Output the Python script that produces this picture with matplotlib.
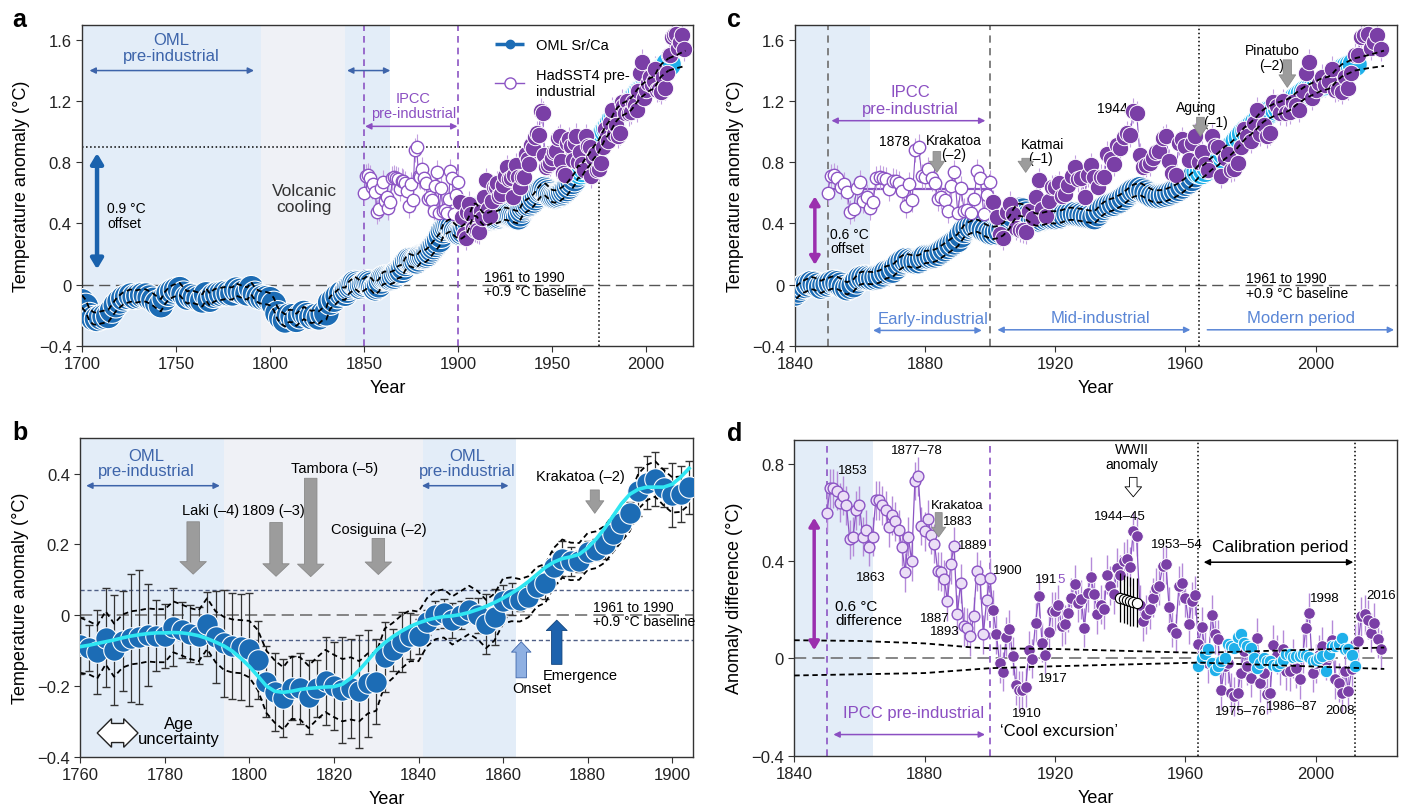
import numpy as np
import matplotlib.pyplot as plt
from matplotlib.lines import Line2D
from matplotlib.ticker import FuncFormatter

plt.rcParams['font.family'] = ['Liberation Sans', 'DejaVu Sans']

OML_BLUE = '#1c6cb5'
CAL_CYAN = '#1fb0ea'
SMOOTH_CYAN = '#2fe6f2'
PURPLE = '#7a3fa6'
PURPLE_LINE = '#8c55c4'
PURPLE_TEXT = '#8b4fc2'
MAGENTA = '#9b2fae'
BLUE_TEXT = '#3d64aa'
PERIOD_BLUE = '#5a86d6'
SHADE_BLUE = '#e3edf8'
SHADE_GREY = '#eff1f6'
ARROW_GREY = '#9c9c9c'

# OML Sr/Ca reconstruction, two-yearly before 1840 and annual afterwards
oml_early_years = np.arange(1700, 1840, 2)
oml_early = np.array([
    -0.11, -0.14, -0.20, -0.22, -0.225, -0.215, -0.21, -0.205, -0.17, -0.135,
    -0.11, -0.09, -0.08, -0.072, -0.08, -0.075, -0.07, -0.072, -0.085, -0.10,
    -0.12, -0.135, -0.09, -0.06, -0.045, -0.035, -0.03, -0.06, -0.085, -0.075,
    -0.085, -0.092, -0.104, -0.064, -0.099, -0.073, -0.064, -0.061, -0.056, -0.058,
    -0.058, -0.033, -0.042, -0.052, -0.058, -0.024, -0.061, -0.08, -0.087, -0.089,
    -0.096, -0.127, -0.188, -0.216, -0.235, -0.205, -0.207, -0.231, -0.207, -0.186,
    -0.20, -0.212, -0.207, -0.215, -0.193, -0.188, -0.118, -0.099, -0.075, -0.058])
oml_years = np.arange(1840, 2013)
oml = np.array([
    -0.06, -0.04, -0.02, -0.01, 0.00, 0.01, 0.005, -0.005, -0.015, -0.005,
    0.00, 0.01, 0.015, 0.01, 0.00, -0.015, -0.025, -0.015, -0.005, 0.02,
    0.04, 0.045, 0.045, 0.043, 0.042, 0.047, 0.052, 0.065, 0.08, 0.085,
    0.09, 0.11, 0.135, 0.15, 0.16, 0.157, 0.152, 0.15, 0.152, 0.165,
    0.18, 0.182, 0.185, 0.19, 0.20, 0.215, 0.23, 0.245, 0.26, 0.275,
    0.29, 0.32, 0.35, 0.365, 0.375, 0.383, 0.385, 0.375, 0.36, 0.35,
    0.34, 0.338, 0.342, 0.35, 0.362, 0.385, 0.41, 0.45, 0.48, 0.49,
    0.485, 0.465, 0.45, 0.435, 0.425, 0.425, 0.43, 0.435, 0.44, 0.44,
    0.44, 0.443, 0.447, 0.455, 0.462, 0.463, 0.462, 0.458, 0.455, 0.45,
    0.447, 0.443, 0.44, 0.46, 0.484, 0.50, 0.512, 0.52, 0.527, 0.538,
    0.549, 0.565, 0.582, 0.60, 0.614, 0.62, 0.625, 0.615, 0.603, 0.59,
    0.58, 0.577, 0.577, 0.58, 0.586, 0.594, 0.603, 0.614, 0.625, 0.64,
    0.658, 0.672, 0.69, 0.715, 0.74, 0.735, 0.75, 0.77, 0.79, 0.805,
    0.82, 0.84, 0.86, 0.875, 0.89, 0.91, 0.935, 0.96, 0.985, 1.005,
    1.02, 1.04, 1.06, 1.085, 1.105, 1.12, 1.13, 1.14, 1.15, 1.155,
    1.165, 1.17, 1.18, 1.195, 1.215, 1.23, 1.245, 1.26, 1.27, 1.28,
    1.29, 1.30, 1.31, 1.315, 1.32, 1.335, 1.36, 1.38, 1.40, 1.41,
    1.42, 1.43, 1.44])
oml_band = 0.04
# band continues past the last coral year
band_tail_years = [2012, 2016, 2021]
band_tail_upper = [1.48, 1.50, 1.53]
band_tail_lower = [1.40, 1.415, 1.43]

# HadSST4 minus OML, 1850-2020
diff_years = np.arange(1850, 2021)
had_diff = np.array([
    0.60, 0.70, 0.70, 0.69, 0.64, 0.67, 0.63, 0.49, 0.50, 0.61,
    0.63, 0.50, 0.53, 0.46, 0.50, 0.65, 0.65, 0.63, 0.61, 0.54,
    0.59, 0.565, 0.53, 0.46, 0.355, 0.50, 0.40, 0.73, 0.75, 0.545,
    0.524, 0.572, 0.51, 0.472, 0.36, 0.357, 0.325, 0.236, 0.387, 0.462,
    0.181, 0.309, 0.133, 0.126, 0.092, 0.174, 0.359, 0.325, 0.099, 0.239,
    0.332, 0.20, 0.10, -0.02, -0.055, 0.09, 0.12, 0.01, -0.11, -0.13,
    -0.13, -0.118, 0.034, -0.001, 0.147, 0.256, 0.065, 0.016, 0.109, 0.195,
    0.195, 0.222, 0.133, 0.14, 0.188, 0.25, 0.305, 0.23, 0.243, 0.126,
    0.271, 0.336, 0.264, 0.181, 0.222, 0.202, 0.345, 0.30, 0.264, 0.373,
    0.345, 0.40, 0.41, 0.378, 0.524, 0.503, 0.222, 0.153, 0.181, 0.202,
    0.25, 0.291, 0.30, 0.38, 0.387, 0.212, 0.126, 0.105, 0.30, 0.312,
    0.25, 0.14, 0.236, 0.26, 0.06, 0.13, 0.04, -0.02, 0.18, 0.10,
    0.08, -0.13, -0.03, -0.02, -0.14, -0.155, -0.14, -0.06, 0.03, -0.03,
    -0.08, 0.02, 0.085, -0.10, -0.06, -0.148, -0.14, 0.057, 0.016, -0.03,
    0.037, -0.05, -0.052, 0.0, -0.04, -0.086, 0.02, 0.126, 0.188, -0.059,
    -0.02, 0.016, 0.05, -0.01, 0.01, 0.078, -0.086, -0.10, -0.141, -0.05,
    -0.134, -0.045, 0.06, 0.07, 0.174, 0.181, 0.16, 0.106, 0.147, 0.08,
    0.037])
had_tail_years = np.arange(2013, 2021)
had_tail = np.array([1.50, 1.62, 1.63, 1.64, 1.55, 1.59, 1.63, 1.54])
had_err = 0.08

# calibration-period residuals
cal_years = np.arange(1964, 2013)
cal_diff = np.array([
    -0.03, 0.00, 0.02, 0.04, -0.02, -0.046, -0.03, -0.01, 0.00, 0.06,
    0.05, 0.045, 0.09, 0.10, 0.065, 0.05, 0.045, 0.00, -0.04, -0.02,
    0.00, -0.01, -0.01, -0.025, -0.03, -0.02, -0.005, 0.02, 0.02, 0.004,
    0.01, 0.01, 0.02, 0.015, 0.004, -0.01, -0.005, 0.0, 0.01, -0.05,
    0.02, 0.05, 0.05, 0.06, 0.085, 0.04, 0.04, 0.016, -0.03])
cal_start, cal_end = 1964, 2012

# bucket-corrected WWII values
wwii_years = np.arange(1940, 1946)
wwii_diff = np.array([0.25, 0.245, 0.24, 0.235, 0.232, 0.23])

# envelope of the difference
denv_years = [1840, 1860, 1880, 1895, 1900, 1920, 1964, 2021]
denv_upper = [0.075, 0.072, 0.062, 0.045, 0.042, 0.039, 0.023, 0.045]
denv_lower = [-0.07, -0.065, -0.06, -0.045, -0.04, -0.032, -0.017, -0.043]

# 1760-1904 detail: errors, envelope half-width and smoothed curve
b_err = np.array([
    0.08, 0.065, 0.12, 0.14, 0.155, 0.14, 0.18, 0.19, 0.145, 0.10,
    0.09, 0.11, 0.08, 0.08, 0.08, 0.09, 0.13, 0.15, 0.15, 0.15,
    0.16, 0.11, 0.10, 0.11, 0.11, 0.09, 0.10, 0.105, 0.08, 0.125,
    0.125, 0.15, 0.14, 0.16, 0.15, 0.12, 0.10, 0.06, 0.085, 0.065,
    0.05, 0.035, 0.04, 0.04, 0.05, 0.04, 0.035, 0.05, 0.085, 0.08,
    0.045, 0.045, 0.03, 0.03, 0.03, 0.045, 0.045, 0.05, 0.04, 0.03,
    0.03, 0.03, 0.04, 0.035, 0.03, 0.03, 0.07, 0.075, 0.075, 0.055,
    0.09, 0.08, 0.075])
b_hw = np.array([
    0.078, 0.075, 0.075, 0.075, 0.075, 0.075, 0.075, 0.075, 0.075, 0.075,
    0.075, 0.072, 0.072, 0.072, 0.072, 0.072, 0.072, 0.075, 0.075, 0.075,
    0.08, 0.085, 0.088, 0.088, 0.088, 0.088, 0.088, 0.088, 0.088, 0.088,
    0.088, 0.088, 0.088, 0.085, 0.085, 0.082, 0.08, 0.078, 0.075, 0.072,
    0.07, 0.068, 0.068, 0.068, 0.068, 0.068, 0.068, 0.068, 0.068, 0.066,
    0.064, 0.062, 0.06, 0.058, 0.056, 0.055, 0.055, 0.054, 0.053, 0.052,
    0.052, 0.052, 0.052, 0.052, 0.052, 0.052, 0.05, 0.05, 0.05, 0.05,
    0.05, 0.05, 0.05])
b_smooth = np.array([
    -0.089, -0.085, -0.080, -0.075, -0.070, -0.064, -0.059, -0.055, -0.052, -0.050,
    -0.050, -0.049, -0.050, -0.053, -0.058, -0.066, -0.076, -0.087, -0.102, -0.122,
    -0.145, -0.172, -0.200, -0.215, -0.218, -0.215, -0.210, -0.207, -0.205, -0.203,
    -0.202, -0.195, -0.178, -0.155, -0.128, -0.100, -0.078, -0.060, -0.045, -0.032,
    -0.022, -0.014, -0.008, -0.004, -0.002, 0.002, 0.008, 0.016, 0.025, 0.036,
    0.048, 0.062, 0.077, 0.095, 0.115, 0.135, 0.150, 0.160, 0.165, 0.172,
    0.190, 0.215, 0.245, 0.280, 0.315, 0.342, 0.356, 0.362, 0.362, 0.362,
    0.370, 0.390, 0.415])
threshold = 0.07
offset = 0.9

# combined series
oml_all_years = np.concatenate([oml_early_years, oml_years])
oml_all = np.concatenate([oml_early, oml])
in_cal = diff_years <= cal_end
had_years = diff_years
had = np.concatenate([oml[np.searchsorted(oml_years, diff_years[in_cal])] + had_diff[in_cal], had_tail])
pre_ind = had_years <= 1900
oml_colors = np.where(oml_all_years >= cal_start, CAL_CYAN, OML_BLUE)
b_sel = (oml_all_years >= 1760) & (oml_all_years <= 1904) & (oml_all_years % 2 == 0)
b_years = oml_all_years[b_sel]
b_vals = oml_all[b_sel]


def fmt(v, pos):
    if abs(v) < 1e-9:
        return '0'
    return f'{v:.1f}'.replace('-', '\u2212')


def style(ax, xticks, yticks, xlim, ylim, ylabel):
    ax.set_xlim(*xlim)
    ax.set_ylim(*ylim)
    ax.set_xticks(xticks)
    ax.set_yticks(yticks)
    ax.yaxis.set_major_formatter(FuncFormatter(fmt))
    ax.tick_params(labelsize=12, length=4, color='#333', labelcolor='#222')
    for s in ax.spines.values():
        s.set_color('#333')
        s.set_linewidth(1)
    ax.set_xlabel('Year', fontsize=13, labelpad=6)
    ax.set_ylabel(ylabel, fontsize=13, labelpad=6)


def darrow(ax, x0, x1, y, color, style_='<|-|>', lw=1.1, ms=9):
    ax.annotate('', xy=(x1, y), xytext=(x0, y),
                arrowprops=dict(arrowstyle=style_, color=color, lw=lw,
                                mutation_scale=ms, shrinkA=0, shrinkB=0), zorder=6)


def varrow(ax, x, y0, y1, color, lw=3, ms=12):
    ax.annotate('', xy=(x, y1), xytext=(x, y0),
                arrowprops=dict(arrowstyle='<|-|>,head_length=0.5,head_width=0.3', color=color,
                                lw=lw, mutation_scale=ms, shrinkA=0, shrinkB=0), zorder=6)


def block(ax, x, y_from, y_to, fc=ARROW_GREY, ec='#8a8a8a', tail=0.9, head=1.9, length=0.9, ms=10):
    ax.annotate('', xy=(x, y_to), xytext=(x, y_from),
                arrowprops=dict(arrowstyle=f'simple,tail_width={tail},head_width={head},head_length={length}',
                                fc=fc, ec=ec, lw=0.6, mutation_scale=ms, shrinkA=0, shrinkB=0), zorder=6)


def draw_oml(ax, s):
    ax.scatter(oml_all_years, oml_all, s=s, c=oml_colors, edgecolors='white', linewidths=0.8, zorder=3)


def draw_band(ax):
    ax.plot(oml_all_years, oml_all + oml_band, color='k', lw=1.3, dashes=(3, 2), zorder=5)
    ax.plot(oml_all_years, oml_all - oml_band, color='k', lw=1.3, dashes=(3, 2), zorder=5)
    ax.plot(band_tail_years, band_tail_upper, color='k', lw=1.3, dashes=(3, 2), zorder=5)
    ax.plot(band_tail_years, band_tail_lower, color='k', lw=1.3, dashes=(3, 2), zorder=5)


def draw_had(ax, s_open, s_fill):
    ax.errorbar(had_years, had, yerr=had_err, fmt='none', ecolor='#c3a0e0', elinewidth=0.8, zorder=2)
    ax.plot(had_years, had, color=PURPLE_LINE, lw=0.8, zorder=2)
    ax.scatter(had_years[pre_ind], had[pre_ind], s=s_open, facecolors='white',
               edgecolors=PURPLE_LINE, linewidths=1, zorder=4)
    ax.scatter(had_years[~pre_ind], had[~pre_ind], s=s_fill, c=PURPLE,
               edgecolors='white', linewidths=0.7, zorder=4)


fig = plt.figure(figsize=(14.06, 8.12), dpi=100)
ax_a = fig.add_axes([82 / 1406, 1 - 346.7 / 812, 611 / 1406, 321 / 812])
ax_c = fig.add_axes([795 / 1406, 1 - 346.7 / 812, 602 / 1406, 321 / 812])
ax_b = fig.add_axes([80.3 / 1406, 1 - 757.7 / 812, 613 / 1406, 318.4 / 812])
ax_d = fig.add_axes([794.3 / 1406, 1 - 756.7 / 812, 603 / 1406, 316 / 812])

for lbl, x, y in [('a', 12, 27), ('c', 727, 27), ('b', 12, 440), ('d', 727, 441)]:
    fig.text(x / 1406, 1 - y / 812, lbl, fontsize=18, fontweight='bold', va='baseline')

# ---- a: full record 1700-2020
ax = ax_a
ax.axvspan(1700, 1795, color=SHADE_BLUE, lw=0, zorder=0)
ax.axvspan(1795, 1840, color=SHADE_GREY, lw=0, zorder=0)
ax.axvspan(1840, 1864, color=SHADE_BLUE, lw=0, zorder=0)
ax.axhline(0, color='#555', lw=1, dashes=(8, 4), zorder=1)
cross_year = oml_all_years[np.argmax(oml_all >= offset)]
ax.plot([1700, cross_year], [offset, offset], color='k', lw=1.1, ls=':', zorder=1)
ax.plot([cross_year, cross_year], [-0.4, offset], color='k', lw=1.1, ls=':', zorder=1)
for yr in (1850, 1900):
    ax.axvline(yr, color=PURPLE_LINE, lw=1.2, dashes=(4, 3), zorder=1)
draw_oml(ax, 340)
draw_had(ax, 80, 140)
draw_band(ax)
ax.text(1747.4, 1.55, 'OML\npre-industrial', ha='center', va='center', color=BLUE_TEXT, fontsize=12, linespacing=1.1)
darrow(ax, 1704, 1791.5, 1.40, BLUE_TEXT)
darrow(ax, 1841, 1864, 1.40, BLUE_TEXT)
ax.text(1876.2, 1.17, 'IPCC\npre-industrial', ha='center', va='center', color=PURPLE_TEXT, fontsize=10.5, linespacing=1.1)
darrow(ax, 1850.6, 1899.7, 1.035, PURPLE_TEXT)
varrow(ax, 1708, 0.1, 0.86, '#1a62ad', lw=3.2)
ax.text(1713.4, 0.45, '0.9 \u00b0C\noffset', ha='left', va='center', fontsize=10, linespacing=1.05)
ax.text(1818.2, 0.565, 'Volcanic\ncooling', ha='center', va='center', fontsize=12.5, color='#333', linespacing=1.1)
ax.text(1913.7, 0.003, '1961 to 1990\n+0.9 \u00b0C baseline', ha='left', va='center', fontsize=10, linespacing=1.05)
handles = [Line2D([], [], color=OML_BLUE, lw=2.5, ls='--', marker='o', ms=6, label='OML Sr/Ca'),
           Line2D([], [], color=PURPLE_LINE, lw=1, marker='o', mfc='white', ms=8, label='HadSST4 pre-\nindustrial')]
ax.legend(handles=handles, loc='upper left', bbox_to_anchor=(0.655, 1.0), frameon=False,
          fontsize=10.5, handlelength=2.0, labelspacing=1.1)
style(ax, np.arange(1700, 2001, 50), np.arange(-0.4, 1.61, 0.4), (1700, 2025), (-0.4, 1.7),
      'Temperature anomaly (\u00b0C)')

# ---- c: 1840-2020
ax = ax_c
ax.axvspan(1840, 1863, color=SHADE_BLUE, lw=0, zorder=0)
ax.axhline(0, color='#555', lw=1, dashes=(8, 4), zorder=1)
for yr in (1850, 1900):
    ax.axvline(yr, color='#777', lw=1.3, dashes=(4, 3), zorder=1)
ax.axvline(cal_start, color='k', lw=1.1, ls=':', zorder=1)
draw_oml(ax, 330)
pre_mean = had[pre_ind].mean()
ax.plot([1850, 1900], [pre_mean, pre_mean], color=PURPLE_LINE, lw=1.6, zorder=2)
draw_had(ax, 80, 140)
draw_band(ax)
ax.text(1875.4, 1.208, 'IPCC\npre-industrial', ha='center', va='center', color=PURPLE_TEXT, fontsize=12, linespacing=1.1)
darrow(ax, 1851.2, 1898.5, 1.072, PURPLE_TEXT)
varrow(ax, 1846.1, 0.129, 0.577, MAGENTA, lw=2.5, ms=10)
ax.text(1850.9, 0.2875, '0.6 \u00b0C\noffset', ha='left', va='center', fontsize=10, linespacing=1.0)
ax.text(1875.2, 0.94, '1878', ha='right', va='center', fontsize=10)
ax.text(1888.7, 0.90, 'Krakatoa\n(\u20132)', ha='center', va='center', fontsize=10, linespacing=1.0)
block(ax, 1883.6, 0.87, 0.734, tail=0.55, head=1.1, length=0.8)
ax.text(1909.4, 0.92, 'Katmai', ha='left', va='center', fontsize=10)
ax.text(1915.5, 0.826, '(\u20131)', ha='center', va='center', fontsize=10)
block(ax, 1910.9, 0.826, 0.734, tail=0.55, head=1.1, length=0.8)
ax.text(1937.5, 1.152, '1944', ha='center', va='center', fontsize=10)
ax.text(1963.2, 1.159, 'Agung', ha='center', va='center', fontsize=10)
ax.text(1969.2, 1.065, '(\u20131)', ha='center', va='center', fontsize=10)
block(ax, 1964.6, 1.094, 0.97, tail=0.55, head=1.1, length=0.8)
ax.text(1986.6, 1.536, 'Pinatubo', ha='center', va='center', fontsize=10)
ax.text(1986.5, 1.436, '(\u20132)', ha='center', va='center', fontsize=10)
block(ax, 1991.3, 1.47, 1.29, tail=0.6, head=1.2, length=0.9)
ax.text(1882.3, -0.22, 'Early-industrial', ha='center', va='center', fontsize=12, color=PERIOD_BLUE)
darrow(ax, 1864, 1897.4, -0.30, PERIOD_BLUE)
ax.text(1933.8, -0.218, 'Mid-industrial', ha='center', va='center', fontsize=12, color=PERIOD_BLUE)
darrow(ax, 1902.2, 1961.5, -0.296, PERIOD_BLUE)
ax.text(1995.4, -0.218, 'Modern period', ha='center', va='center', fontsize=12, color=PERIOD_BLUE)
darrow(ax, 1966.7, 2024.1, -0.296, PERIOD_BLUE, style_='-|>')
ax.text(1978.5, -0.007, '1961 to 1990\n+0.9 \u00b0C baseline', ha='left', va='center', fontsize=10, linespacing=1.05)
style(ax, np.arange(1840, 2001, 40), np.arange(-0.4, 1.61, 0.4), (1840, 2025), (-0.4, 1.7),
      'Temperature anomaly (\u00b0C)')

# ---- b: 1760-1905 detail
ax = ax_b
ax.axvspan(1760, 1794, color=SHADE_BLUE, lw=0, zorder=0)
ax.axvspan(1794, 1841, color=SHADE_GREY, lw=0, zorder=0)
ax.axvspan(1841, 1863, color=SHADE_BLUE, lw=0, zorder=0)
for yv in (threshold, -threshold):
    ax.axhline(yv, color='#4f5f86', lw=1, dashes=(3, 2), zorder=1)
ax.axhline(0, color='#666', lw=1.1, dashes=(8, 4), zorder=1)
ax.errorbar(b_years, b_vals, yerr=b_err, fmt='none', ecolor='#333', elinewidth=0.9, capsize=3, zorder=2)
for sign in (1, -1):
    ax.plot(b_years, b_vals + sign * b_hw, color='k', lw=1.3, dashes=(3, 2), zorder=2)
ax.scatter(b_years, b_vals, s=240, c=OML_BLUE, edgecolors='white', linewidths=0.8, zorder=3)
ax.plot(b_years, b_smooth, color=SMOOTH_CYAN, lw=2.6, zorder=4)
ax.text(1775.7, 0.43, 'OML\npre-industrial', ha='center', va='center', color=BLUE_TEXT, fontsize=12, linespacing=1.0)
darrow(ax, 1761.4, 1793, 0.366, BLUE_TEXT)
ax.text(1851.5, 0.43, 'OML\npre-industrial', ha='center', va='center', color=BLUE_TEXT, fontsize=12, linespacing=1.0)
darrow(ax, 1840.8, 1861.3, 0.366, BLUE_TEXT)
ax.text(1790.7, 0.297, 'Laki (\u20134)', ha='center', va='center', fontsize=10.5)
block(ax, 1786.7, 0.264, 0.116)
ax.text(1805.6, 0.297, '1809 (\u20133)', ha='center', va='center', fontsize=10.5)
block(ax, 1806.3, 0.262, 0.11)
ax.text(1820.2, 0.415, 'Tambora (\u20135)', ha='center', va='center', fontsize=10.5)
block(ax, 1814.5, 0.387, 0.109)
ax.text(1830.6, 0.243, 'Cosiguina (\u20132)', ha='center', va='center', fontsize=10.5)
block(ax, 1830.5, 0.217, 0.115)
ax.text(1878.3, 0.394, 'Krakatoa (\u20132)', ha='center', va='center', fontsize=10.5)
block(ax, 1881.7, 0.354, 0.288, tail=0.65, head=1.3, length=0.9)
block(ax, 1864.3, -0.177, -0.075, fc='#8fb0e2', ec='#3f66aa', tail=0.75, head=1.4, length=0.75)
ax.text(1866.9, -0.207, 'Onset', ha='center', va='center', fontsize=10.5)
block(ax, 1872.7, -0.139, -0.014, fc='#1d62ad', ec='#12457f', tail=0.75, head=1.5, length=0.75)
ax.text(1878.3, -0.168, 'Emergence', ha='center', va='center', fontsize=10.5)
ax.text(1881.2, 0.003, '1961 to 1990\n+0.9 \u00b0C baseline', ha='left', va='center', fontsize=10, linespacing=1.0)
ax.text(1768.8, -0.333, '      ', ha='center', va='center', fontsize=8.5,
        bbox=dict(boxstyle='darrow,pad=0.3', fc='white', ec='#222', lw=1))
ax.text(1783.2, -0.328, 'Age\nuncertainty', ha='center', va='center', fontsize=12, linespacing=1.0)
style(ax, np.arange(1760, 1901, 20), np.arange(-0.4, 0.41, 0.2), (1760, 1905), (-0.4, 0.5),
      'Temperature anomaly (\u00b0C)')

# ---- d: HadSST4 minus OML
ax = ax_d
ax.axvspan(1840, 1864, color=SHADE_BLUE, lw=0, zorder=0)
ax.axhline(0, color='#666', lw=1.1, dashes=(8, 4), zorder=1)
for yr in (1850, 1900):
    ax.axvline(yr, color=PURPLE_LINE, lw=1.2, dashes=(4, 3), zorder=1)
for yr in (cal_start, cal_end):
    ax.axvline(yr, color='k', lw=1.1, ls=':', zorder=1)
ax.plot(denv_years, denv_upper, color='k', lw=1.3, dashes=(3, 2), zorder=5)
ax.plot(denv_years, denv_lower, color='k', lw=1.3, dashes=(3, 2), zorder=5)
ax.errorbar(diff_years, had_diff, yerr=had_err, fmt='none', ecolor='#b58ad9', elinewidth=1, zorder=2)
ax.plot(diff_years, had_diff, color=PURPLE_LINE, lw=0.9, zorder=2)
pre_d = diff_years <= 1900
ax.scatter(diff_years[pre_d], had_diff[pre_d], s=60, facecolors='#ebdff6', edgecolors=PURPLE_LINE,
           linewidths=1, zorder=3)
ax.scatter(diff_years[~pre_d], had_diff[~pre_d], s=70, c=PURPLE, edgecolors='white', linewidths=0.7, zorder=3)
ax.errorbar(wwii_years, wwii_diff, yerr=0.1, fmt='none', ecolor='k', elinewidth=0.9, zorder=4)
ax.scatter(wwii_years, wwii_diff, s=55, facecolors='white', edgecolors='k', linewidths=0.8, zorder=4)
ax.errorbar(cal_years, cal_diff, yerr=0.015, fmt='none', ecolor=CAL_CYAN, elinewidth=1, capsize=2, zorder=4)
ax.scatter(cal_years, cal_diff, s=80, c=CAL_CYAN, edgecolors='white', linewidths=0.7, zorder=4)
varrow(ax, 1846.1, 0.034, 0.579, MAGENTA, lw=2.5, ms=10)
ax.text(1852.5, 0.186, '0.6 \u00b0C\ndifference', ha='left', va='center', fontsize=11, linespacing=1.0)
ax.text(1876.5, -0.224, 'IPCC pre-industrial', ha='center', va='center', fontsize=12, color=PURPLE_TEXT)
darrow(ax, 1852, 1898.5, -0.313, PURPLE_TEXT)
ax.text(1903.2, -0.296, '\u2018Cool excursion\u2019', ha='left', va='center', fontsize=12)
ax.text(1989, 0.462, 'Calibration period', ha='center', va='center', fontsize=12.5)
darrow(ax, 1965.6, 2011.5, 0.396, 'k')
ax.text(1943.5, 0.83, 'WWII\nanomaly', ha='center', va='center', fontsize=10, linespacing=1.05)
block(ax, 1944, 0.745, 0.665, fc='white', ec='k', tail=0.45, head=1.0, length=0.6, ms=12)
for txt, x, y in [('1853', 1853.5, 0.775), ('1863', 1859, 0.335), ('Krakatoa', 1881.8, 0.63),
                  ('1883', 1885.7, 0.565), ('1889', 1890.3, 0.466), ('1887', 1878.5, 0.167),
                  ('1893', 1881.6, 0.115), ('1900', 1901, 0.366), ('1917', 1914.6, -0.08),
                  ('1910', 1906.8, -0.224), ('1944\u201345', 1931.9, 0.586), ('1953\u201354', 1949.4, 0.469),
                  ('1975\u201376', 1969.2, -0.217), ('1986\u201387', 1984.6, -0.196), ('1998', 1998.3, 0.25),
                  ('2008', 2002.8, -0.213), ('2016', 2015.6, 0.26)]:
    ax.text(x, y, txt, ha='left', va='center', fontsize=9.5)
ax.text(1877.7, 0.857, '1877\u201378', ha='center', va='center', fontsize=9.5)
ax.text(1913.8, 0.325, '191', ha='left', va='center', fontsize=9.5)
ax.annotate('5', xy=(1913.8, 0.325), xytext=(15.9, 0), textcoords='offset points',
            ha='left', va='center', fontsize=9.5, color=PURPLE_TEXT)
block(ax, 1884.3, 0.60, 0.50, tail=0.5, head=1.0, length=0.7)
style(ax, np.arange(1840, 2001, 40), [-0.4, 0, 0.4, 0.8], (1840, 2025), (-0.4, 0.9),
      'Anomaly difference (\u00b0C)')

fig.savefig('out.png', dpi=100)
